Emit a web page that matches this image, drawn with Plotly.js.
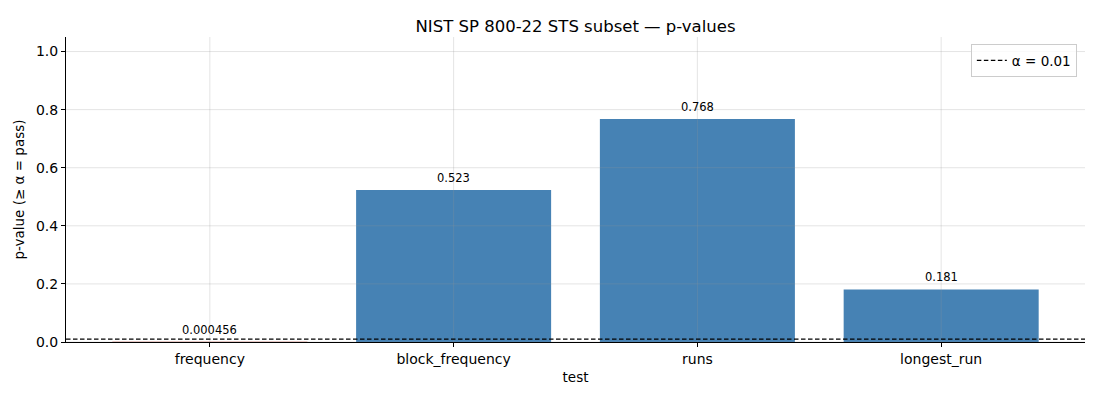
<!DOCTYPE html>
<html>
<head>
<meta charset="utf-8">
<script src="https://cdn.plot.ly/plotly-3.0.1.min.js"></script>
<style>
  html, body { margin: 0; padding: 0; background: #fff; }
  #chart { width: 1100px; height: 400px; }
</style>
</head>
<body>
<div id="chart"></div>
<script>
// test names and their p-values
const tests = ['frequency', 'block_frequency', 'runs', 'longest_run'];
const pValues = [0.000456, 0.523, 0.768, 0.181];
const valueLabels = ['0.000456', '0.523', '0.768', '0.181'];
const alpha = 0.01;
const yTicks = [0, 0.2, 0.4, 0.6, 0.8, 1.0];
const yTickText = ['0.0', '0.2', '0.4', '0.6', '0.8', '1.0'];

const passColor = '#4682b4';
const failColor = '#c0392b';
const gridColor = 'rgba(150,150,150,0.25)';
const dashStyle = '4.5px,2.5px';
const font = 'DejaVu Sans, sans-serif';

const barColors = pValues.map(p => p >= alpha ? passColor : failColor);

const bars = {
    type: 'bar',
    x: tests,
    y: pValues,
    width: 0.8,
    marker: { color: barColors, line: { width: 0 } },
    showlegend: false,
    hoverinfo: 'x+y'
};

// dummy trace just to get the dashed line into the legend
const alphaLegend = {
    type: 'scatter',
    mode: 'lines',
    x: [null],
    y: [null],
    name: 'α = 0.01',
    line: { color: '#000', width: 1.2, dash: dashStyle }
};

const labels = tests.map((t, i) => ({
    x: t,
    y: pValues[i],
    text: valueLabels[i],
    showarrow: false,
    yanchor: 'bottom',
    yshift: 3,
    font: { family: font, size: 11.5, color: '#000' }
}));

// grid is drawn on top of the bars in the original, so do it with shapes
const gridShapes = [];
tests.forEach(t => {
    gridShapes.push({
        type: 'line', layer: 'above',
        xref: 'x', x0: t, x1: t,
        yref: 'paper', y0: 0, y1: 1,
        line: { color: gridColor, width: 1 }
    });
});
yTicks.forEach(v => {
    gridShapes.push({
        type: 'line', layer: 'above',
        xref: 'paper', x0: 0, x1: 1,
        yref: 'y', y0: v, y1: v,
        line: { color: gridColor, width: 1 }
    });
});

const alphaLine = {
    type: 'line', layer: 'above',
    xref: 'paper', x0: 0, x1: 1,
    yref: 'y', y0: alpha, y1: alpha,
    line: { color: '#000', width: 1.2, dash: dashStyle }
};

const layout = {
    width: 1100,
    height: 400,
    margin: { l: 66, r: 15, t: 37, b: 58 },
    paper_bgcolor: '#fff',
    plot_bgcolor: '#fff',
    font: { family: font, size: 14, color: '#000' },
    title: {
        text: 'NIST SP 800-22 STS subset — p-values',
        font: { family: font, size: 16.5, color: '#000' },
        x: 0.5, xref: 'paper',
        y: 1, yref: 'paper', yanchor: 'bottom', pad: { b: 5 }
    },
    xaxis: {
        title: { text: 'test', font: { size: 13.5 }, standoff: 6 },
        range: [-0.59, 3.59],
        showgrid: false,
        showline: true,
        linecolor: '#000',
        linewidth: 1,
        ticks: 'outside',
        ticklen: 4,
        tickcolor: '#000',
        tickfont: { size: 14 },
        zeroline: false
    },
    yaxis: {
        title: { text: 'p-value (≥ α = pass)', font: { size: 13.5 }, standoff: 8 },
        range: [0, 1.05],
        tickvals: yTicks,
        ticktext: yTickText,
        showgrid: false,
        showline: true,
        linecolor: '#000',
        linewidth: 1,
        ticks: 'outside',
        ticklen: 4,
        tickcolor: '#000',
        tickfont: { size: 14 },
        zeroline: false
    },
    shapes: gridShapes.concat([alphaLine]),
    annotations: labels,
    showlegend: true,
    legend: {
        x: 0.992, xanchor: 'right',
        y: 0.977, yanchor: 'top',
        bgcolor: 'rgba(255,255,255,0.8)',
        bordercolor: '#cccccc',
        borderwidth: 1,
        font: { size: 13.5 },
        itemwidth: 30
    },
    bargap: 0.2
};

Plotly.newPlot('chart', [bars, alphaLegend], layout, { displayModeBar: false, staticPlot: true });
</script>
</body>
</html>
